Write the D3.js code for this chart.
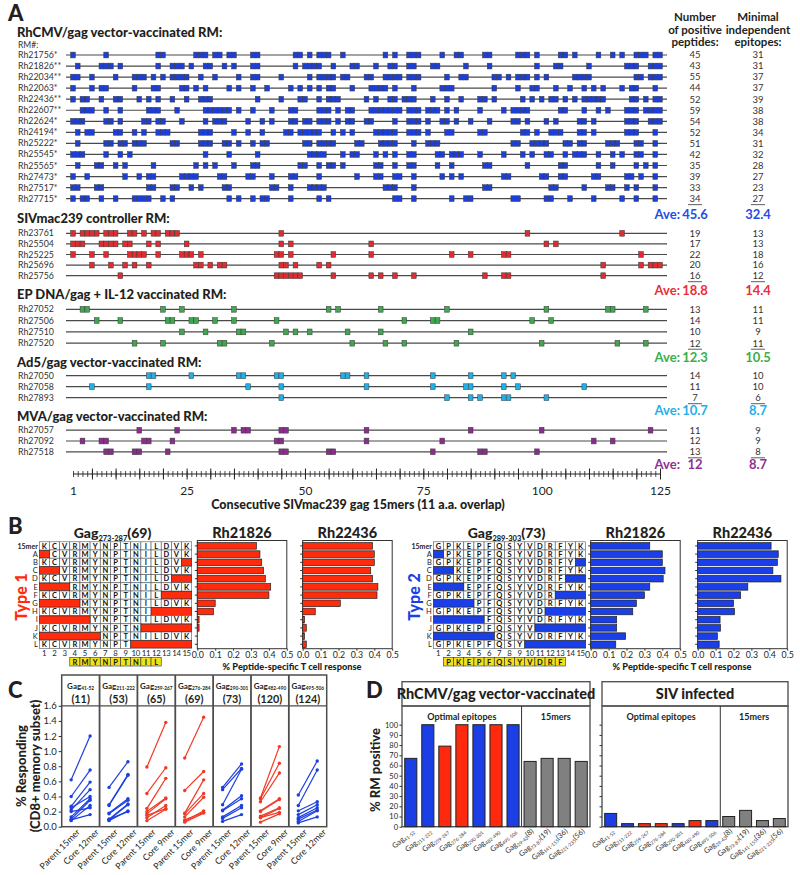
<!DOCTYPE html>
<html><head><meta charset="utf-8">
<script src="https://cdn.jsdelivr.net/npm/d3@7"></script>
<style>body{margin:0;background:#fff} svg{font-family:Lato,'Open Sans',sans-serif}</style>
</head><body><script>
// ---------------- DATA ----------------
// Panel A
const rhcmvMonkeys = ["Rh21756*","Rh21826**","Rh22034**","Rh22063*","Rh22436**","Rh22607**","Rh22624*","Rh24194*","Rh25222*","Rh25545*","Rh25565*","Rh27473*","Rh27517*","Rh27715*"];
const rhcmvPeptides = [
 [1,8,19,20,27,28,29,31,32,34,35,39,40,48,49,51,53,54,55,58,67,69,72,73,74,79,82,83,88,89,95,96,97,99,104,105,107,112,115,117,120,121,122,124,125],
 [2,7,8,9,11,19,22,23,24,26,29,30,33,35,39,40,48,50,51,52,53,56,60,61,65,68,69,72,73,77,78,84,89,99,103,104,110,118,119,120,123,124,125],
 [1,2,5,10,14,15,16,18,20,22,23,24,25,28,31,36,39,40,45,51,53,54,55,56,58,59,63,64,67,68,69,70,72,73,74,80,83,84,90,91,93,95,96,97,99,101,107,108,109,110,120,121,123,124,125],
 [1,5,7,8,14,18,19,24,25,27,29,34,36,39,42,47,49,51,53,55,56,60,64,65,66,67,69,73,79,80,81,90,95,98,99,103,106,109,111,113,117,119,120,124],
 [1,3,4,7,10,11,15,17,19,22,25,28,29,30,40,45,49,50,53,55,56,57,63,65,68,69,71,72,73,77,80,83,87,88,90,96,98,100,102,103,105,107,109,110,111,112,113,119,120,122,124,125],
 [3,4,5,8,11,17,18,19,23,29,30,31,32,33,34,36,39,43,47,48,53,54,55,57,59,60,64,65,66,67,68,69,70,72,73,74,76,77,78,80,82,87,92,94,95,96,97,104,105,109,112,114,118,119,120,122,123,124,125],
 [1,2,3,8,9,11,16,17,19,20,24,29,31,32,33,38,41,43,47,48,50,51,53,54,55,57,59,60,63,64,69,72,73,74,76,79,80,82,85,89,94,95,97,101,103,108,109,111,118,119,120,123,124,125],
 [2,4,5,10,11,14,16,19,20,21,28,29,30,35,38,41,46,47,49,50,51,52,53,56,58,60,65,66,67,68,69,72,73,74,76,80,81,87,88,96,97,99,102,103,104,108,109,111,118,119,120,124],
 [2,8,9,11,12,14,15,16,22,23,28,29,30,33,34,36,39,41,42,50,51,53,54,55,56,61,62,66,67,68,69,73,76,77,78,94,95,98,99,100,101,105,106,108,109,114,115,116,120,121,124],
 [1,2,3,8,11,13,29,34,40,51,52,53,54,58,60,61,65,67,69,72,73,78,79,81,82,83,87,92,96,98,101,102,105,107,108,109,112,115,117,120,121,124],
 [2,6,7,10,12,18,27,29,31,35,39,40,49,50,53,55,56,58,65,66,69,72,73,78,81,88,89,97,104,105,112,115,120,122,124],
 [1,4,12,15,17,18,24,25,26,27,32,33,38,39,43,47,48,53,61,65,66,69,70,73,79,81,83,92,93,100,101,104,105,111,112,118,119,121,124],
 [1,2,6,7,17,18,22,23,26,28,33,34,43,44,47,51,52,53,54,67,68,69,73,88,89,102,103,109,114,115,118,120,124],
 [1,3,4,7,10,14,15,16,17,20,22,34,36,39,41,42,47,53,55,69,70,73,81,84,85,94,95,101,102,106,111,117,120,124]
];
const rhcmvCounts = [45,43,55,44,52,59,54,52,51,42,35,39,33,34];
const rhcmvEpitopes = [31,31,37,37,39,38,38,34,31,32,28,27,23,27];
const rhcmvAve = ["45.6","32.4"];

const sivMonkeys = ["Rh23761","Rh25504","Rh25225","Rh25696","Rh25756"];
const sivPeptides = [
 [1,3,4,5,6,8,9,10,13,14,16,18,19,21,22,23,45,97,117],
 [1,2,3,7,8,9,10,12,13,17,19,25,45,47,64,101,103],
 [1,5,8,13,14,15,16,19,24,25,26,28,44,45,47,56,64,81,85,92,93,121],
 [5,9,12,14,17,27,28,30,32,33,45,46,48,53,55,113,121,123,124,125],
 [11,44,45,46,47,48,49,56,64,66,69,73,88,92,93,113]
];
const sivCounts = [19,17,22,20,16];
const sivEpitopes = [13,13,18,16,12];
const sivAve = ["18.8","14.4"];

const epMonkeys = ["Rh27052","Rh27506","Rh27510","Rh27520"];
const epPeptides = [
 [3,4,20,24,35,55,57,66,80,101,114,115,122],
 [6,11,21,22,26,27,31,35,44,71,77,78,98,102],
 [24,29,36,37,46,48,51,59,66,85],
 [14,20,32,33,43,60,67,71,82,100,116,122]
];
const epCounts = [13,14,10,12];
const epEpitopes = [11,11,9,11];
const epAve = ["12.3","10.5"];

const ad5Monkeys = ["Rh27050","Rh27058","Rh27893"];
const ad5Peptides = [
 [17,18,26,36,37,44,45,58,59,63,77,85,92,94],
 [5,17,38,45,63,77,84,85,92,95,109],
 [45,80,85,87,92,93,101]
];
const ad5Counts = [14,11,7];
const ad5Epitopes = [10,10,6];
const ad5Ave = ["10.7","8.7"];

const mvaMonkeys = ["Rh27057","Rh27092","Rh27518"];
const mvaPeptides = [
 [15,23,35,37,38,45,46,63,85,100,123],
 [3,7,8,16,17,22,44,45,63,79,111,115],
 [8,9,14,15,21,45,46,55,56,77,87,88,99]
];
const mvaCounts = [11,12,13];
const mvaEpitopes = [9,9,8];
const mvaAve = ["12","8.7"];

const groupTitles = ["RhCMV/gag vector-vaccinated RM:","SIVmac239 controller RM:","EP DNA/gag + IL-12 vaccinated RM:","Ad5/gag vector-vaccinated RM:","MVA/gag vector-vaccinated RM:"];
const axisLabelsA = [1,25,50,75,100,125];

// Panel B
const truncRows = ["15mer","A","B","C","D","E","F","G","H","I","J","K","L"];
const truncN = [0,1,0,2,0,3,0,4,0,5,0,6,0];
const truncC = [0,0,1,0,2,0,3,0,4,0,5,0,6];
const type1Seq = ["K","C","V","R","M","Y","N","P","T","N","I","L","D","V","K"];
const type2Seq = ["G","P","K","E","P","F","Q","S","Y","V","D","R","F","Y","K"];
const type1Optimal = [4,12];
const type2Optimal = [2,13];
const type1Rh21826 = [0.33,0.35,0.36,0.37,0.38,0.41,0.40,0.10,0.09,0.01,0.01,0,0];
const type1Rh22436 = [0.39,0.40,0.40,0.38,0.39,0.42,0.415,0.21,0.07,0.01,0.02,0.01,0.02];
const type2Rh21826 = [0.33,0.40,0.40,0.415,0.405,0.33,0.30,0.255,0.235,0.145,0.145,0.195,0.14];
const type2Rh22436 = [0.41,0.45,0.445,0.42,0.465,0.28,0.24,0.20,0.205,0.125,0.127,0.11,0.12];
const bTicks = [0,0.1,0.2,0.3,0.4,0.5];

// Panel C
const cRanges = ["41-52","211-222","259-267","276-284","290-301","482-490","495-506"];
const cNumbers = ["(11)","(53)","(65)","(69)","(73)","(120)","(124)"];
const cType = [2,2,1,1,2,1,2];
const cCoreLabels = ["Core 12mer","Core 12mer","Core 9mer","Core 9mer","Core 12mer","Core 9mer","Core 12mer"];
const cParent = [
 [0.62,0.40,0.27,0.22,0.25,0.13,0.10,0.08,0.20,0.09],
 [0.52,0.29,0.28,0.18,0.17,0.10,0.09,0.08,0.10],
 [0.79,0.44,0.24,0.20,0.17,0.12,0.08,0.15],
 [0.91,0.48,0.18,0.17,0.13,0.07,0.09,0.06],
 [0.52,0.49,0.29,0.22,0.21,0.13,0.11,0.07],
 [0.38,0.37,0.33,0.21,0.20,0.14,0.12,0.12,0.06],
 [0.42,0.28,0.21,0.16,0.12,0.10,0.07,0.05]
];
const cCore = [
 [1.20,0.75,0.59,0.49,0.40,0.37,0.35,0.28,0.25,0.16],
 [0.86,0.69,0.68,0.37,0.35,0.30,0.29,0.21,0.20],
 [1.38,0.78,0.64,0.38,0.37,0.28,0.23,0.24],
 [1.45,0.73,0.62,0.44,0.39,0.21,0.19,0.18],
 [0.83,0.77,0.76,0.41,0.37,0.28,0.25,0.16],
 [1.06,0.84,0.71,0.37,0.36,0.25,0.24,0.19,0.17],
 [0.87,0.75,0.33,0.29,0.25,0.22,0.21,0.13]
];
const cTicks = [0,0.2,0.4,0.6,0.8,1.0,1.2,1.4,1.6];

// Panel D
const dRanges = ["41-52","211-222","259-267","276-284","290-301","482-490","495-506","29-43","73-87","141-155","221-235"];
const dSuffix = ["","","","","","","","(8)","(19)","(36)","(56)"];
const dKind = ["t2","t2","t1","t1","t2","t1","t2","mer","mer","mer","mer"];
const dRhCMV = [67,100,79,100,100,100,100,64,67,67,64];
const dSIV = [13,3,3,3,3,6,6,10,16,6,8];
const dTicks = [0,10,20,30,40,50,60,70,80,90,100];

// ---------------- DRAW ----------------
const svg = d3.select("body").append("svg").attr("width",800).attr("height",875);
const TXT = "#231f20";
function label(t,x,y,size,weight,anchor,fill){
  return svg.append("text").attr("x",x).attr("y",y).attr("font-size",size)
    .attr("font-weight",weight||"normal").attr("text-anchor",anchor||"start").attr("fill",fill||TXT).text(t);
}
// panel letters
label("A",8,21,22,"900");
label("B",8,534,22,"900");
label("C",8,698,22,"900");
label("D",366,698,22,"900");

// ---- Panel A ----
const xA = d3.scaleLinear().domain([1,125]).range([73,660]);
const boxW = xA(2)-xA(1);
const groupsA = [
 {names:rhcmvMonkeys,pep:rhcmvPeptides,n:rhcmvCounts,e:rhcmvEpitopes,ave:rhcmvAve,fill:"#1c3fd6",txt:"#1f4de6"},
 {names:sivMonkeys,pep:sivPeptides,n:sivCounts,e:sivEpitopes,ave:sivAve,fill:"#e32a2f",txt:"#ea2e38"},
 {names:epMonkeys,pep:epPeptides,n:epCounts,e:epEpitopes,ave:epAve,fill:"#3ea84c",txt:"#3cae4a"},
 {names:ad5Monkeys,pep:ad5Peptides,n:ad5Counts,e:ad5Epitopes,ave:ad5Ave,fill:"#1fb1ea",txt:"#1fb0ea"},
 {names:mvaMonkeys,pep:mvaPeptides,n:mvaCounts,e:mvaEpitopes,ave:mvaAve,fill:"#8b2d8d",txt:"#8e3192"}
];
const layoutA = [
 {titleY:37,y0:55,step:11.05,aveY:219},
 {titleY:223,y0:233.3,step:10.6,aveY:294.5},
 {titleY:299,y0:309.3,step:11.3,aveY:361.5},
 {titleY:367,y0:375.7,step:11,aveY:415},
 {titleY:421,y0:430.2,step:10.8,aveY:468.5}
];
const colN = 695, colE = 758;
label("RM#:",18,48,8.5,"normal","start","#333");
[["Number",21],["of positive",34],["peptides:",46]].forEach(d=>label(d[0],colN,d[1],11.5,"bold","middle"));
[["Minimal",21],["independent",34],["epitopes:",46]].forEach(d=>label(d[0],colE,d[1],11.5,"bold","middle"));

groupsA.forEach((g,gi)=>{
  const L = layoutA[gi];
  label(groupTitles[gi],17,L.titleY,13,"900");
  g.names.forEach((nm,i)=>{
    const y = L.y0 + i*L.step;
    const row = svg.append("g");
    row.append("line").attr("x1",66).attr("x2",667).attr("y1",y).attr("y2",y).attr("stroke","#4a4a4a").attr("stroke-width",1.2);
    row.selectAll("rect").data(g.pep[i]).join("rect")
      .attr("x",p=>xA(p)-boxW/2).attr("y",y-2.9).attr("width",boxW).attr("height",5.8)
      .attr("fill",g.fill).attr("stroke","#3a3a3a").attr("stroke-width",0.5);
    label(nm,18,y+3,8.8,"normal","start","#333");
    label(g.n[i],colN,y+3.3,9.5,"normal","middle","#333");
    label(g.e[i],colE,y+3.3,9.5,"normal","middle","#333");
    if(i===g.names.length-1){
      [colN,colE].forEach(cx=>svg.append("line").attr("x1",cx-7).attr("x2",cx+7).attr("y1",y+6).attr("y2",y+6).attr("stroke","#333").attr("stroke-width",0.8));
    }
  });
  label("Ave:",680,L.aveY,13,"bold","end",g.txt);
  label(g.ave[0],colN,L.aveY,13,"bold","middle",g.txt);
  label(g.ave[1],colE,L.aveY,13,"bold","middle",g.txt);
});
// axis A
const axY = 474;
svg.append("line").attr("x1",xA(1)).attr("x2",xA(125)).attr("y1",axY).attr("y2",axY).attr("stroke","#222").attr("stroke-width",1);
svg.append("g").attr("transform",`translate(0,${axY-3})`)
  .call(d3.axisBottom(xA).tickValues(d3.range(1,126)).tickSize(6).tickFormat(""))
  .call(g=>{g.select(".domain").remove(); g.selectAll("line").attr("stroke","#222").attr("stroke-width",0.8);});
svg.append("g").attr("transform",`translate(0,${axY-5.5})`)
  .call(d3.axisBottom(xA).tickValues(d3.range(5,126,5)).tickSize(11).tickFormat(""))
  .call(g=>{g.select(".domain").remove(); g.selectAll("line").attr("stroke","#222").attr("stroke-width",1);});
svg.append("g").attr("transform",`translate(0,${axY+9})`)
  .call(d3.axisBottom(xA).tickValues(axisLabelsA).tickSize(0).tickPadding(3))
  .call(g=>{g.select(".domain").remove(); g.selectAll("text").attr("font-size",12).attr("fill",TXT).attr("font-family","Lato");});
label("Consecutive SIVmac239 gag 15mers (11 a.a. overlap)",358,509,12.5,"900","middle");

// ---- Panel B ----
const rowBand = d3.scaleBand().domain(truncRows).range([541.8,648.4]);
const cellW = 10.16;
function seqPanel(x0, seq, opt, color, sub, num, typeLabel, typeX){
  const g = svg.append("g");
  const colX = d3.scaleLinear().domain([1,16]).range([x0, x0+15*cellW]);
  const t = g.append("text").attr("x",colX(8.5)-3).attr("y",538).attr("text-anchor","middle").attr("font-weight","900").attr("fill",TXT);
  t.append("tspan").attr("font-size",14).text("Gag");
  t.append("tspan").attr("font-size",7.5).attr("dy",3).text(sub);
  t.append("tspan").attr("font-size",14).attr("dy",-3).text(num);
  truncRows.forEach((r,ri)=>{
    const y = rowBand(r), h = rowBand.bandwidth();
    g.append("text").attr("x",x0-1.5).attr("y",y+h/2+2.7).attr("text-anchor","end").attr("font-size",ri===0?7:7.5).attr("font-weight",ri===0?"bold":"normal").attr("fill",TXT).text(r);
    seq.forEach((s,ci)=>{
      const pos = ci+1;
      const del = pos<=truncN[ri] || pos>15-truncC[ri];
      if(!del){
        g.append("rect").attr("x",colX(pos)).attr("y",y).attr("width",cellW).attr("height",h).attr("fill","#fff").attr("stroke","#555").attr("stroke-width",0.6);
        g.append("text").attr("x",colX(pos)+cellW/2).attr("y",y+h/2+2.7).attr("text-anchor","middle").attr("font-size",7.5).attr("font-weight","bold").attr("fill","#111").text(s);
      }
    });
    const nDel = truncN[ri], cDel = truncC[ri];
    if(nDel>0) g.append("rect").attr("x",colX(1)).attr("y",y+0.3).attr("width",nDel*cellW).attr("height",h-0.6).attr("fill",color).attr("stroke","#222").attr("stroke-width",0.6);
    if(cDel>0) g.append("rect").attr("x",colX(16-cDel)).attr("y",y+0.3).attr("width",cDel*cellW).attr("height",h-0.6).attr("fill",color).attr("stroke","#222").attr("stroke-width",0.6);
  });
  d3.range(1,16).forEach(p=>g.append("text").attr("x",colX(p)+cellW/2).attr("y",655.5).attr("text-anchor","middle").attr("font-size",7.8).attr("letter-spacing",p>9?-0.3:0).attr("fill",TXT).text(p));
  for(let p=opt[0];p<=opt[1];p++){
    g.append("rect").attr("x",colX(p)).attr("y",657.5).attr("width",cellW).attr("height",8.5).attr("fill","#f2e21b").attr("stroke","#333").attr("stroke-width",0.6);
    g.append("text").attr("x",colX(p)+cellW/2).attr("y",664.5).attr("text-anchor","middle").attr("font-size",7.5).attr("font-weight","bold").attr("fill","#111").text(seq[p-1]);
  }
  g.append("text").attr("transform",`translate(${typeX},597) rotate(-90)`).attr("text-anchor","middle").attr("font-size",16).attr("font-weight","900").attr("fill",color).text(typeLabel);
}
function barPanel(x0, vals, color, title){
  const xs = d3.scaleLinear().domain([0,0.5]).range([x0,x0+89.5]);
  const yb = d3.scaleBand().domain(truncRows).range([541.8,648.4]).paddingInner(0.2).paddingOuter(0.1);
  const g = svg.append("g");
  g.append("text").attr("x",x0+44.7).attr("y",538).attr("text-anchor","middle").attr("font-size",14.5).attr("font-weight","900").attr("fill",TXT).text(title);
  g.append("rect").attr("x",x0).attr("y",540.5).attr("width",89.5).attr("height",108.2).attr("fill","none").attr("stroke","#333").attr("stroke-width",1);
  g.selectAll(".bar").data(vals).join("rect").attr("class","bar")
    .attr("x",xs(0)).attr("y",(d,i)=>yb(truncRows[i])).attr("width",d=>Math.max(0,xs(d)-xs(0))).attr("height",yb.bandwidth())
    .attr("fill",color).attr("stroke","#222").attr("stroke-width",0.7);
  g.append("g").attr("transform",`translate(${x0},0)`).call(d3.axisLeft(yb).tickSize(2.5).tickFormat(""))
    .call(a=>{a.select(".domain").remove(); a.selectAll("line").attr("stroke","#333");});
  g.append("g").attr("transform",`translate(0,648.7)`).call(d3.axisBottom(xs).tickValues(bTicks).tickSize(2).tickPadding(1.5).tickFormat(d3.format(".1f")))
    .call(a=>{a.select(".domain").remove(); a.selectAll("line").attr("stroke","#333"); a.selectAll("text").attr("font-size",8.8).attr("fill",TXT).attr("font-family","Lato");});
}
const RED_B = "#ff2b0d", BLUE_B = "#1b3fe6";
seqPanel(39.3, type1Seq, type1Optimal, RED_B, "273-287", "(69)", "Type 1", 27);
barPanel(197.3, type1Rh21826, RED_B, "Rh21826");
barPanel(302.7, type1Rh22436, RED_B, "Rh22436");
label("% Peptide-specific T cell response",292,669.5,9.2,"900","middle");
seqPanel(433.3, type2Seq, type2Optimal, BLUE_B, "289-303", "(73)", "Type 2", 420);
barPanel(590.7, type2Rh21826, BLUE_B, "Rh21826");
barPanel(697.7, type2Rh22436, BLUE_B, "Rh22436");
label("% Peptide-specific T cell response",682,669.5,9.2,"900","middle");

// ---- Panel C ----
const cx = d3.scaleBand().domain(d3.range(7)).range([61.7,326.7]);
const cy = d3.scaleLinear().domain([0,1.6]).range([826.7,705.8]);
const cFrame = "#4d4d4d";
const cTop = 675;
svg.append("rect").attr("x",61.7).attr("y",cTop).attr("width",265).attr("height",826.7-cTop).attr("fill","none").attr("stroke",cFrame).attr("stroke-width",1.5);
svg.append("line").attr("x1",61.7).attr("x2",326.7).attr("y1",705.8).attr("y2",705.8).attr("stroke",cFrame).attr("stroke-width",1.2);
cRanges.forEach((r,i)=>{
  const x0 = cx(i), bw = cx.bandwidth();
  if(i>0) svg.append("line").attr("x1",x0).attr("x2",x0).attr("y1",cTop).attr("y2",826.7).attr("stroke",cFrame).attr("stroke-width",1.8);
  const t = svg.append("text").attr("x",x0+bw/2).attr("y",688.5).attr("text-anchor","middle").attr("font-weight","bold").attr("fill",TXT);
  t.append("tspan").attr("font-size",8).text("Gag");
  t.append("tspan").attr("font-size",4.8).attr("dy",1.5).text(r);
  label(cNumbers[i],x0+bw/2,703.3,10.8,"bold","middle");
  const px = d3.scalePoint().domain(["Parent 15mer",cCoreLabels[i]]).range([x0+bw*0.25,x0+bw*0.75]);
  const col = cType[i]===1 ? "#f03a25" : "#1c3fe0";
  const g = svg.append("g");
  cParent[i].forEach((pv,j)=>{
    const cv = cCore[i][j];
    g.append("line").attr("x1",px("Parent 15mer")).attr("x2",px(cCoreLabels[i])).attr("y1",cy(pv)).attr("y2",cy(cv)).attr("stroke",col).attr("stroke-width",1.2);
    g.append("circle").attr("cx",px("Parent 15mer")).attr("cy",cy(pv)).attr("r",1.7).attr("fill",col);
    g.append("circle").attr("cx",px(cCoreLabels[i])).attr("cy",cy(cv)).attr("r",1.7).attr("fill",col);
  });
  g.append("g").attr("transform","translate(0,826.7)").call(d3.axisBottom(px).tickSize(0).tickPadding(4))
    .call(a=>{a.select(".domain").remove(); a.selectAll("text").attr("font-size",8.8).attr("fill",TXT).attr("font-family","Lato")
      .attr("text-anchor","end").attr("transform","translate(3,0) rotate(-45)").attr("dy","0.5em");});
});
svg.append("g").attr("transform","translate(61.7,0)").call(d3.axisLeft(cy).tickValues(cTicks).tickSize(3).tickPadding(2).tickFormat(d3.format(".1f")))
  .call(a=>{a.select(".domain").remove(); a.selectAll("line").attr("stroke","#333"); a.selectAll("text").attr("font-size",9.5).attr("fill",TXT).attr("font-family","Lato");});
svg.append("text").attr("transform","translate(26,766) rotate(-90)").attr("text-anchor","middle").attr("font-size",13).attr("font-weight","900").attr("fill",TXT).text("% Responding");
svg.append("text").attr("transform","translate(40,766) rotate(-90)").attr("text-anchor","middle").attr("font-size",13).attr("font-weight","900").attr("fill",TXT).text("(CD8+ memory subset)");

// ---- Panel D ----
const dy = d3.scaleLinear().domain([0,100]).range([826.7,724.7]);
const dColor = {t1:"#ff2a0d", t2:"#1b3fe4", mer:"#808080"};
function dPanel(x0,x1,vals,title,showLabels){
  const g = svg.append("g");
  const xb = d3.scaleBand().domain(d3.range(vals.length)).range([x0,x1]).paddingInner(0.29).paddingOuter(0.16);
  g.append("rect").attr("x",x0).attr("y",681.7).attr("width",x1-x0).attr("height",24.3).attr("fill","none").attr("stroke","#555").attr("stroke-width",1.4);
  g.append("rect").attr("x",x0).attr("y",706).attr("width",x1-x0).attr("height",120.7).attr("fill","none").attr("stroke","#555").attr("stroke-width",1.4);
  g.append("text").attr("x",(x0+x1)/2).attr("y",699).attr("text-anchor","middle").attr("font-size",14.5).attr("font-weight","900").attr("fill",TXT).text(title);
  const div = (xb(6)+xb.bandwidth()+xb(7))/2;
  g.append("line").attr("x1",div).attr("x2",div).attr("y1",706).attr("y2",826.7).attr("stroke","#333").attr("stroke-width",1);
  g.append("text").attr("x",(x0+div)/2).attr("y",720).attr("text-anchor","middle").attr("font-size",9).attr("font-weight","bold").attr("fill",TXT).text("Optimal epitopes");
  g.append("text").attr("x",(div+x1)/2).attr("y",720).attr("text-anchor","middle").attr("font-size",9).attr("font-weight","bold").attr("fill",TXT).text("15mers");
  g.selectAll(".bar").data(vals).join("rect").attr("class","bar")
    .attr("x",(d,i)=>xb(i)).attr("y",d=>dy(d)).attr("width",xb.bandwidth()).attr("height",d=>dy(0)-dy(d))
    .attr("fill",(d,i)=>dColor[dKind[i]]).attr("stroke","#222").attr("stroke-width",1);
  g.append("g").attr("transform",`translate(${x0},0)`).call(d3.axisLeft(dy).tickValues(dTicks).tickSize(2.5).tickPadding(1.5).tickFormat(showLabels?d3.format("d"):""))
    .call(a=>{a.select(".domain").remove(); a.selectAll("line").attr("stroke","#333"); a.selectAll("text").attr("font-size",7.5).attr("fill",TXT).attr("font-family","Lato");});
  dRanges.forEach((r,i)=>{
    const t = g.append("text").attr("transform",`translate(${xb(i)+xb.bandwidth()/2+4},832) rotate(-40)`).attr("text-anchor","end").attr("fill","#333");
    t.append("tspan").attr("font-size",7.5).text("Gag");
    t.append("tspan").attr("font-size",4.8).attr("dy",1.5).text(r);
    if(dSuffix[i]) t.append("tspan").attr("font-size",7.5).attr("dy",-1.5).text(dSuffix[i]);
  });
}
dPanel(402,590,dRhCMV,"RhCMV/gag vector-vaccinated",true);
dPanel(602,788,dSIV,"SIV infected",false);
svg.append("text").attr("transform","translate(380,770) rotate(-90)").attr("text-anchor","middle").attr("font-size",13).attr("font-weight","900").attr("fill",TXT).text("% RM positive");
</script></body></html>
